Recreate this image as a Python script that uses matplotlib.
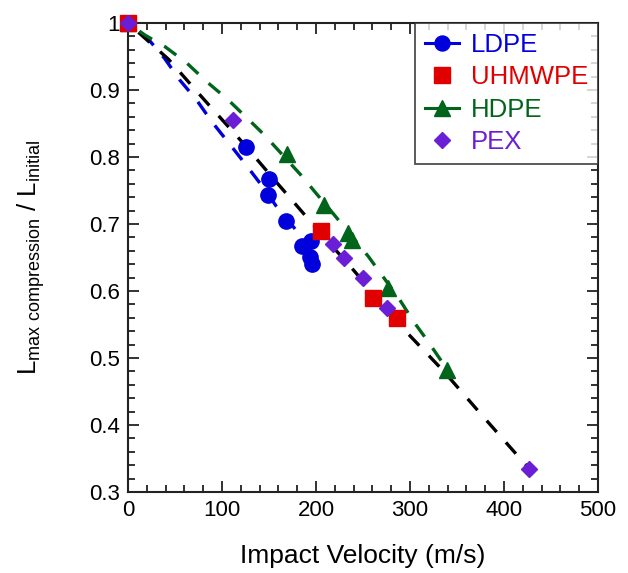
import matplotlib
matplotlib.use("Agg")
import matplotlib.pyplot as plt
from matplotlib.lines import Line2D
from matplotlib.ticker import MultipleLocator

plt.rcParams['font.family'] = ['Liberation Sans', 'DejaVu Sans']

# ---- data ----
ldpe_x = [0, 125, 150, 149, 168, 185, 195, 194, 196]
ldpe_y = [1.0, 0.815, 0.767, 0.743, 0.704, 0.667, 0.674, 0.651, 0.640]

uhmwpe_x = [0, 205, 261, 286]
uhmwpe_y = [1.0, 0.689, 0.589, 0.559]

hdpe_x = [0, 169, 208, 234, 238, 277, 339]
hdpe_y = [1.0, 0.805, 0.728, 0.686, 0.676, 0.604, 0.482]

pex_x = [0, 112, 218, 230, 250, 276, 427]
pex_y = [1.0, 0.855, 0.670, 0.650, 0.620, 0.575, 0.334]

# fitted trend curves
ldpe_fit_x = [0, 21, 39, 55, 73, 89, 106, 124, 142, 158, 174, 194]
ldpe_fit_y = [1.0, 0.977, 0.947, 0.915, 0.885, 0.853, 0.823, 0.791, 0.758, 0.726, 0.699, 0.665]

all_fit_x = [0, 43, 82, 121, 160, 197, 240, 296, 336, 375, 414, 427]
all_fit_y = [1.0, 0.946, 0.884, 0.823, 0.759, 0.699, 0.631, 0.539, 0.480, 0.417, 0.355, 0.335]

hdpe_fit_x = [0, 18, 39, 62, 84, 106, 126, 145, 184, 200, 218, 256, 289, 304, 318, 340]
hdpe_fit_y = [1.0, 0.982, 0.965, 0.941, 0.912, 0.886, 0.859, 0.833, 0.773, 0.746, 0.716,
              0.651, 0.587, 0.554, 0.527, 0.482]

labels = ["LDPE", "UHMWPE", "HDPE", "PEX"]
colors = ["#0000dc", "#e00000", "#00641a", "#6a1fd6"]

# ---- figure ----
fig = plt.figure(figsize=(6.28, 5.73), dpi=100)
ax = fig.add_axes([128/628, 1-492/573, 470/628, 469/573])

lw = 2.4
ax.plot(ldpe_fit_x, ldpe_fit_y, color=colors[0], lw=lw, linestyle=(3.0, (4.5, 4.2)), zorder=2)
ax.plot(all_fit_x, all_fit_y, color="black", lw=lw, linestyle=(4.5, (4.5, 4.2)), zorder=2)
ax.plot(hdpe_fit_x, hdpe_fit_y, color=colors[2], lw=lw, linestyle=(4.5, (4.5, 4.2)), zorder=2)

ax.plot(ldpe_x, ldpe_y, 'o', color=colors[0], ms=11, mec=colors[0], zorder=3, clip_on=False)
ax.plot(hdpe_x, hdpe_y, '^', color=colors[2], ms=12, mec=colors[2], zorder=3, clip_on=False)
ax.plot(uhmwpe_x, uhmwpe_y, 's', color=colors[1], ms=11, mec=colors[1], zorder=4, clip_on=False)
ax.plot(pex_x, pex_y, 'D', color=colors[3], ms=8, mec=colors[3], zorder=5, clip_on=False)

ax.set_xlim(0, 500)
ax.set_ylim(0.3, 1.0)
ax.xaxis.set_major_locator(MultipleLocator(100))
ax.xaxis.set_minor_locator(MultipleLocator(20))
ax.yaxis.set_minor_locator(MultipleLocator(0.02))
ax.set_yticks([0.3, 0.4, 0.5, 0.6, 0.7, 0.8, 0.9, 1.0])
ax.set_yticklabels(["0.3", "0.4", "0.5", "0.6", "0.7", "0.8", "0.9", "1"])

ax.tick_params(which='both', direction='in', top=True, right=True, width=1.3,
               labelsize=16, colors='#222222', labelcolor='black')
ax.tick_params(which='major', length=8, pad=6)
ax.tick_params(which='minor', length=5)
for s in ax.spines.values():
    s.set_linewidth(1.5)
    s.set_color('#222222')

ax.set_xlabel("Impact Velocity (m/s)", fontsize=19, labelpad=16)
ax.set_ylabel(r"L$_{\mathregular{max\ compression}}$ / L$_{\mathregular{initial}}$", fontsize=18.5)
ax.yaxis.set_label_coords(-0.172, 0.5)

handles = [
    Line2D([], [], color=colors[0], marker='o', ms=10.8, lw=2.2),
    Line2D([], [], color=colors[1], marker='s', ms=11, lw=0),
    Line2D([], [], color=colors[2], marker='^', ms=12, lw=2.2),
    Line2D([], [], color=colors[3], marker='D', ms=8, lw=0),
]
leg = ax.legend(handles, labels, loc='upper right', borderaxespad=0, fontsize=18.5,
                frameon=True, fancybox=False, edgecolor='#222222', handlelength=1.35,
                labelspacing=0.33, handletextpad=0.45, borderpad=0.38)
leg.get_frame().set_linewidth(1.3)
for t, c in zip(leg.get_texts(), colors):
    t.set_color(c)

fig.savefig("out.png", dpi=100)
